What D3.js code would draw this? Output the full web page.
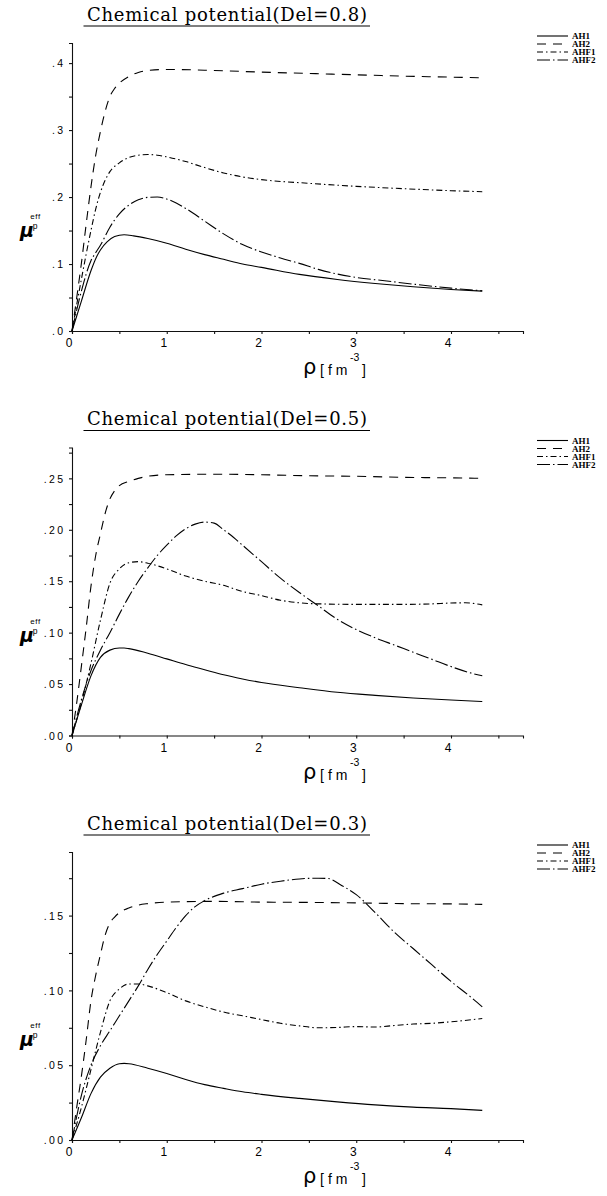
<!DOCTYPE html>
<html><head><meta charset="utf-8">
<script src="https://cdn.jsdelivr.net/npm/d3@7"></script>
<style>
html,body{margin:0;padding:0;background:#fff;}
svg{display:block;}
</style></head>
<body>
<svg id="chart" width="607" height="1196"></svg>
<script>
// ---------- data ----------
const seriesNames = ["AH1", "AH2", "AHF1", "AHF2"];
const panelTitles = ["Chemical potential(Del=0.8)", "Chemical potential(Del=0.5)", "Chemical potential(Del=0.3)"];

const xTickValues = [0, 1, 2, 3, 4];
const xTickLabels = ["0", "1", "2", "3", "4"];
const xMinorTickValues = [0.5, 1.5, 2.5, 3.5, 4.5];
const xMax = 4.76;

const yTickValues08 = [0, 0.1, 0.2, 0.3, 0.4];
const yTickLabels08 = [".0", ".1", ".2", ".3", ".4"];
const yMinorTicks08 = [0.05, 0.15, 0.25, 0.35];
const yTickValues05 = [0, 0.05, 0.10, 0.15, 0.20, 0.25];
const yTickLabels05 = [".00", ".05", ".10", ".15", ".20", ".25"];
const yMinorTicks05 = [0.025, 0.075, 0.125, 0.175, 0.225, 0.275];
const yTickValues03 = [0, 0.05, 0.10, 0.15];
const yTickLabels03 = [".00", ".05", ".10", ".15"];
const yMinorTicks03 = [0.025, 0.075, 0.125, 0.175];
const yMaxValues = [0.43, 0.28, 0.1925];

// Del = 0.8
const AH1_del08 = [[0,0],[0.1,0.045],[0.2,0.09],[0.26,0.111],[0.3,0.121],[0.37,0.133],[0.45,0.141],[0.55,0.1437],[0.65,0.142],[0.8,0.138],[1.0,0.131],[1.2,0.122],[1.4,0.114],[1.6,0.107],[1.8,0.1],[2.0,0.095],[2.4,0.0845],[2.8,0.077],[3.2,0.071],[3.6,0.066],[4.0,0.062],[4.33,0.0595]];
const AH2_del08 = [[0,0],[0.05,0.05],[0.1,0.102],[0.15,0.16],[0.2,0.215],[0.25,0.262],[0.3,0.298],[0.35,0.328],[0.4,0.35],[0.45,0.362],[0.5,0.37],[0.6,0.38],[0.7,0.386],[0.8,0.389],[1.0,0.3905],[1.5,0.389],[2.0,0.3865],[2.5,0.3845],[3.0,0.3825],[3.5,0.3805],[4.0,0.379],[4.33,0.378]];
const AHF1_del08 = [[0,0],[0.1,0.078],[0.2,0.15],[0.25,0.182],[0.3,0.207],[0.35,0.225],[0.4,0.238],[0.5,0.251],[0.6,0.259],[0.7,0.2625],[0.8,0.2635],[0.9,0.2625],[1.0,0.26],[1.2,0.253],[1.4,0.244],[1.6,0.236],[1.8,0.23],[2.0,0.226],[2.5,0.2205],[3.0,0.216],[3.5,0.2125],[4.0,0.2095],[4.33,0.208]];
const AHF2_del08 = [[0,0],[0.1,0.06],[0.2,0.105],[0.25,0.117],[0.3,0.128],[0.4,0.155],[0.5,0.175],[0.6,0.188],[0.7,0.196],[0.8,0.1995],[0.9,0.2],[1.0,0.197],[1.1,0.191],[1.2,0.183],[1.4,0.164],[1.6,0.145],[1.8,0.129],[2.0,0.118],[2.2,0.109],[2.4,0.101],[2.6,0.092],[2.8,0.085],[3.0,0.08],[3.3,0.075],[3.6,0.07],[4.0,0.064],[4.33,0.06]];

// Del = 0.5
const AH1_del05 = [[0,0],[0.1,0.03],[0.2,0.058],[0.3,0.076],[0.4,0.083],[0.5,0.085],[0.55,0.085],[0.6,0.0845],[0.8,0.08],[1.0,0.0745],[1.2,0.069],[1.4,0.064],[1.6,0.059],[1.8,0.055],[2.0,0.0515],[2.4,0.0465],[2.8,0.042],[3.2,0.039],[3.6,0.0365],[4.0,0.0345],[4.33,0.033]];
const AH2_del05 = [[0,0],[0.05,0.032],[0.1,0.068],[0.15,0.105],[0.2,0.145],[0.25,0.175],[0.3,0.196],[0.35,0.216],[0.4,0.23],[0.45,0.238],[0.5,0.243],[0.6,0.247],[0.7,0.25],[0.8,0.252],[1.0,0.2535],[1.5,0.254],[2.0,0.2535],[2.5,0.2525],[3.0,0.252],[3.5,0.251],[4.0,0.2505],[4.33,0.25]];
const AHF1_del05 = [[0,0],[0.1,0.032],[0.2,0.07],[0.3,0.112],[0.4,0.148],[0.5,0.162],[0.6,0.168],[0.7,0.169],[0.8,0.1675],[1.0,0.162],[1.2,0.155],[1.4,0.15],[1.6,0.146],[1.8,0.14],[2.0,0.136],[2.2,0.1315],[2.4,0.129],[2.6,0.128],[3.0,0.1275],[3.5,0.1275],[3.8,0.128],[4.0,0.1288],[4.15,0.129],[4.33,0.127]];
const AHF2_del05 = [[0,0],[0.1,0.035],[0.2,0.063],[0.3,0.083],[0.4,0.1],[0.5,0.118],[0.6,0.135],[0.7,0.15],[0.8,0.163],[0.9,0.175],[1.0,0.185],[1.1,0.194],[1.2,0.201],[1.3,0.2055],[1.4,0.2075],[1.5,0.2065],[1.6,0.2],[1.7,0.193],[1.8,0.185],[2.0,0.169],[2.2,0.153],[2.4,0.139],[2.6,0.126],[2.8,0.113],[3.0,0.103],[3.2,0.095],[3.4,0.088],[3.6,0.081],[3.8,0.074],[4.0,0.067],[4.2,0.061],[4.33,0.058]];

// Del = 0.3
const AH1_del03 = [[0,0],[0.1,0.015],[0.2,0.031],[0.3,0.042],[0.4,0.048],[0.5,0.051],[0.55,0.0512],[0.6,0.051],[0.8,0.048],[1.0,0.0445],[1.2,0.0405],[1.4,0.037],[1.6,0.0345],[1.8,0.0322],[2.0,0.0305],[2.4,0.0278],[2.8,0.0255],[3.2,0.0235],[3.6,0.022],[4.0,0.021],[4.33,0.0198]];
const AH2_del03 = [[0,0],[0.05,0.022],[0.1,0.043],[0.15,0.067],[0.2,0.093],[0.25,0.11],[0.3,0.124],[0.35,0.137],[0.4,0.145],[0.45,0.149],[0.5,0.152],[0.6,0.155],[0.7,0.157],[0.8,0.158],[1.0,0.159],[1.5,0.1595],[2.0,0.159],[2.5,0.1588],[3.0,0.1585],[3.5,0.158],[4.0,0.1578],[4.33,0.1575]];
const AHF1_del03 = [[0,0],[0.1,0.022],[0.2,0.047],[0.3,0.072],[0.4,0.093],[0.5,0.101],[0.6,0.1043],[0.7,0.1043],[0.8,0.103],[1.0,0.0985],[1.2,0.093],[1.4,0.089],[1.6,0.0855],[1.8,0.083],[2.0,0.0805],[2.2,0.078],[2.4,0.0763],[2.6,0.075],[2.8,0.0752],[3.0,0.0758],[3.2,0.0755],[3.4,0.0765],[3.6,0.0775],[3.8,0.078],[4.0,0.079],[4.33,0.0812]];
const AHF2_del03 = [[0,0],[0.1,0.03],[0.2,0.05],[0.3,0.063],[0.4,0.073],[0.5,0.083],[0.6,0.093],[0.7,0.103],[0.8,0.114],[0.9,0.124],[1.0,0.133],[1.1,0.142],[1.2,0.15],[1.3,0.156],[1.4,0.16],[1.6,0.165],[1.8,0.168],[2.0,0.171],[2.2,0.173],[2.4,0.1745],[2.6,0.175],[2.7,0.1748],[2.85,0.17],[3.0,0.164],[3.2,0.152],[3.4,0.139],[3.6,0.128],[3.8,0.117],[4.0,0.106],[4.2,0.096],[4.33,0.089]];

// ---------- build ----------
const panels = [
  {title: panelTitles[0], ymax: yMaxValues[0], ticks: yTickValues08, labels: yTickLabels08, minor: yMinorTicks08, series: [AH1_del08, AH2_del08, AHF1_del08, AHF2_del08]},
  {title: panelTitles[1], ymax: yMaxValues[1], ticks: yTickValues05, labels: yTickLabels05, minor: yMinorTicks05, series: [AH1_del05, AH2_del05, AHF1_del05, AHF2_del05]},
  {title: panelTitles[2], ymax: yMaxValues[2], ticks: yTickValues03, labels: yTickLabels03, minor: yMinorTicks03, series: [AH1_del03, AH2_del03, AHF1_del03, AHF2_del03]}
];

const dashes = [null, "9,7", "6,3,1.5,3", "13,3,1.5,3"];
const svg = d3.select("#chart");
const panelStep = 404.5;
const plotLeft = 72, plotRight = 523, plotTop = 43, plotBottom = 331;
const axisColor = "#111";
const sans = "'Liberation Sans', Arial, sans-serif";

panels.forEach((p, i) => {
  const g = svg.append("g").attr("transform", `translate(0,${i * panelStep})`);
  const x = d3.scaleLinear().domain([0, xMax]).range([plotLeft, plotRight]);
  const y = d3.scaleLinear().domain([0, p.ymax]).range([plotBottom, plotTop]);

  // title
  g.append("text")
    .attr("x", 87).attr("y", 20.5)
    .attr("textLength", 280).attr("lengthAdjust", "spacing")
    .style("font-family", "'DejaVu Serif', serif").style("font-size", "18px")
    .attr("fill", "#000")
    .text(p.title);
  g.append("line").attr("x1", 83.5).attr("x2", 370).attr("y1", 26).attr("y2", 26)
    .attr("stroke", "#000").attr("stroke-width", 1.2);

  // y axis
  const yAll = p.ticks.concat(p.minor);
  const yAxis = d3.axisLeft(y).tickValues(yAll).tickSizeOuter(0).tickSize(3)
    .tickFormat(v => { const k = p.ticks.indexOf(v); return k >= 0 ? p.labels[k] : ""; });
  const ya = g.append("g").attr("transform", `translate(${plotLeft},0)`).call(yAxis);
  ya.select(".domain").attr("stroke", axisColor).attr("stroke-width", 1.1);
  ya.selectAll(".tick line").attr("stroke", axisColor).attr("stroke-width", 1.1);
  ya.selectAll(".tick text")
    .attr("x", -6.5).attr("dy", "0.36em")
    .style("font-family", sans).style("font-size", "10.5px")
    .style("letter-spacing", "2.4px").attr("fill", "#000");

  // x axis
  const xAll = xTickValues.concat(xMinorTickValues);
  const xAxis = d3.axisBottom(x).tickValues(xAll).tickSizeOuter(0).tickSize(3)
    .tickFormat(v => { const k = xTickValues.indexOf(v); return k >= 0 ? xTickLabels[k] : ""; });
  const xa = g.append("g").attr("transform", `translate(0,${plotBottom})`).call(xAxis);
  xa.select(".domain").attr("stroke", axisColor).attr("stroke-width", 1.1);
  xa.selectAll(".tick line").attr("stroke", axisColor).attr("stroke-width", 1.1);
  xa.selectAll(".tick text")
    .attr("y", 16).attr("dy", 0).attr("dx", -3.5)
    .style("font-family", sans).style("font-size", "12px")
    .attr("fill", "#000");

  // series
  const line = d3.line().x(d => x(d[0])).y(d => y(d[1])).curve(d3.curveMonotoneX);
  p.series.forEach((s, j) => {
    const path = g.append("path").datum(s).attr("d", line)
      .attr("fill", "none").attr("stroke", "#000").attr("stroke-width", 1.1);
    if (dashes[j]) path.attr("stroke-dasharray", dashes[j]);
  });

  // legend
  seriesNames.forEach((name, j) => {
    const ly = 36 + j * 8;
    const l = g.append("line").attr("x1", 537).attr("x2", 568).attr("y1", ly).attr("y2", ly)
      .attr("stroke", "#000").attr("stroke-width", 1.1);
    if (dashes[j]) l.attr("stroke-dasharray", dashes[j]);
    g.append("text").attr("x", 572).attr("y", ly + 3.2)
      .style("font-family", "'Liberation Serif', 'Times New Roman', serif")
      .style("font-size", "9px").style("font-weight", "bold")
      .attr("fill", "#000").text(name);
  });

  // y label  mu_p^eff
  g.append("text").attr("x", 20).attr("y", 237)
    .style("font-family", "'DejaVu Sans', sans-serif").style("font-size", "19px")
    .style("font-style", "italic").style("font-weight", "bold").attr("fill", "#000").text("μ");
  g.append("text").attr("x", 35.5).attr("y", 219).attr("text-anchor", "middle")
    .style("font-family", sans).style("font-size", "8px")
    .style("letter-spacing", "0.6px").attr("fill", "#000").text("eff");
  g.append("text").attr("x", 35).attr("y", 229).attr("text-anchor", "middle")
    .style("font-family", sans).style("font-size", "8.5px")
    .attr("fill", "#000").text("p");

  // x label  rho [fm^-3]
  g.append("text").attr("x", 303).attr("y", 374)
    .style("font-family", "'DejaVu Sans', sans-serif").style("font-size", "21px")
    .attr("fill", "#000").text("ρ");
  g.append("text").attr("x", 320).attr("y", 375)
    .style("font-family", sans).style("font-size", "14px")
    .style("letter-spacing", "4px").attr("fill", "#000").text("[fm");
  g.append("text").attr("x", 350).attr("y", 361)
    .style("font-family", sans).style("font-size", "10.5px")
    .attr("fill", "#000").text("-3");
  g.append("text").attr("x", 362).attr("y", 375)
    .style("font-family", sans).style("font-size", "14px")
    .attr("fill", "#000").text("]");
});
</script>
</body></html>
